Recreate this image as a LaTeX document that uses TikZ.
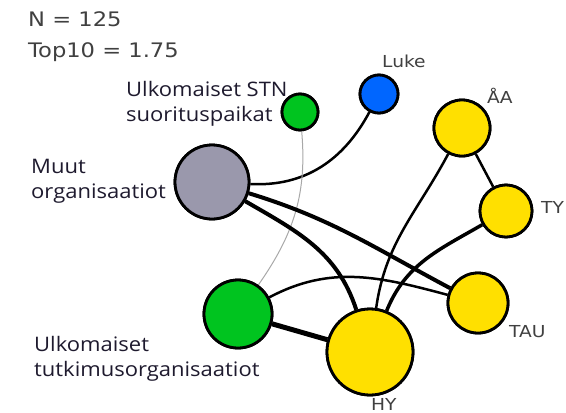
\documentclass[tikz,border=0pt]{standalone}
\usepackage{fontspec}
\setmainfont{Open Sans}
\newfontfamily\orgfont[FakeStretch=1.1]{Open Sans}
\newfontfamily\headfont[FakeStretch=1.13]{DejaVu Sans}
\definecolor{ny}{HTML}{FFE000}
\definecolor{ng}{HTML}{00C41F}
\definecolor{nb}{HTML}{0066FF}
\definecolor{ngr}{HTML}{9A98AC}
\definecolor{txt}{HTML}{404040}
\definecolor{lbl}{HTML}{1E1A2E}
\definecolor{thin}{HTML}{A8A8A8}
\begin{document}
\begin{tikzpicture}[x=1pt,y=-1pt,
  vert/.style={circle,draw=black,line width=2.8pt,inner sep=0pt,minimum size=#1},
  edge/.style={line width=#1,draw=black},
  head/.style={font=\headfont\fontsize{20}{24}\selectfont,text=txt,inner sep=0pt,anchor=base west},
  orglbl/.style={font=\orgfont\fontsize{20}{25}\selectfont,text=lbl,inner sep=0pt,align=left,anchor=west},
  nlbl/.style={font=\headfont\fontsize{16.5}{18}\selectfont,text=txt,inner sep=0pt,anchor=base west}]
\useasboundingbox (0,0) rectangle (566,413);
% node positions (edges drawn first, nodes on top)
\coordinate (cmuut) at (212,182);
\coordinate (cstn) at (300,112);
\coordinate (cluke) at (379,94);
\coordinate (caa) at (462,128);
\coordinate (cty) at (506,211);
\coordinate (ctau) at (478,303);
\coordinate (ctutk) at (238,314);
\coordinate (chy) at (370,352);
\path (cmuut) node[vert=74pt,fill=ngr] (muut) {}
      (cstn) node[vert=36pt,fill=ng] (stn) {}
      (cluke) node[vert=38pt,fill=nb] (luke) {}
      (caa) node[vert=56pt,fill=ny] (aa) {}
      (cty) node[vert=52pt,fill=ny] (ty) {}
      (ctau) node[vert=60pt,fill=ny] (tau) {}
      (ctutk) node[vert=68pt,fill=ng] (tutk) {}
      (chy) node[vert=86pt,fill=ny] (hy) {};
% edges
\draw[edge=2.5pt] (muut) to[out=-3,in=-118] (luke);
\draw[line width=1pt,draw=thin] (stn) to[out=-85,in=55] (tutk);
\draw[edge=4pt] (muut) to[out=-30,in=108] (hy);
\draw[edge=4pt] (muut) to[out=-17,in=152] (tau);
\draw[edge=5pt] (tutk) -- (hy);
\draw[edge=2.5pt] (tutk) to[out=28,in=165] (tau);
\draw[edge=2.5pt] (hy) to[out=82,in=-118] (aa);
\draw[edge=3.5pt] (hy) to[out=68,in=-150] (ty);
\draw[edge=2.5pt] (aa) -- (ty);
% redraw nodes on top
\path (cmuut) node[vert=74pt,fill=ngr] {}
      (cstn) node[vert=36pt,fill=ng] {}
      (cluke) node[vert=38pt,fill=nb] {}
      (caa) node[vert=56pt,fill=ny] {}
      (cty) node[vert=52pt,fill=ny] {}
      (ctau) node[vert=60pt,fill=ny] {}
      (ctutk) node[vert=68pt,fill=ng] {}
      (chy) node[vert=86pt,fill=ny] {};
% texts
\node[head] (n) at (28,26) {N = 125};
\node[head] (top) at (28,57) {Top10 = 1.75};
\node[orglbl] (lstn) at (126,104) {Ulkomaiset STN\\suorituspaikat};
\node[orglbl] (lmuut) at (31,181) {Muut\\organisaatiot};
\node[orglbl] (ltutk) at (34,359) {Ulkomaiset\\tutkimusorganisaatiot};
\node[nlbl] (lluke) at (382,67) {Luke};
\node[nlbl] (laa) at (487,103) {ÅA};
\node[nlbl] (lty) at (541,213) {TY};
\node[nlbl] (ltau) at (509,337) {TAU};
\node[nlbl] (lhy) at (371,410) {HY};
\end{tikzpicture}
\end{document}
